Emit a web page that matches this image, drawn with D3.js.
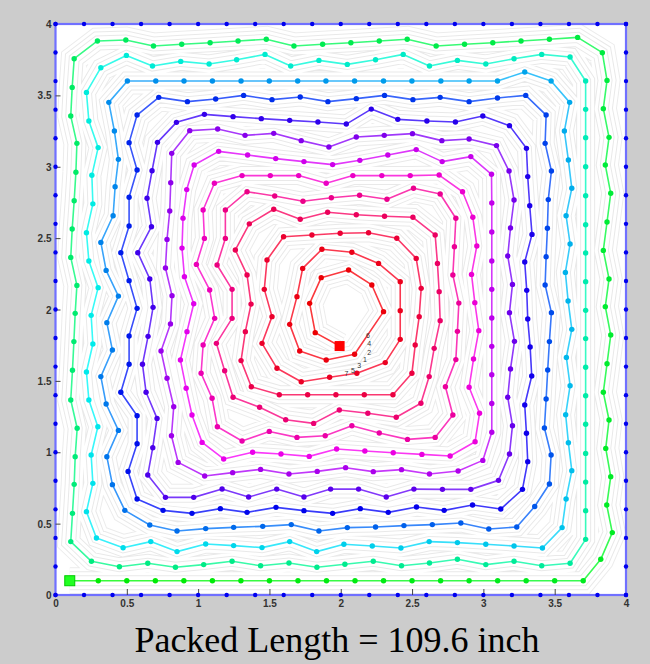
<!DOCTYPE html>
<html><head><meta charset="utf-8">
<script src="https://cdn.jsdelivr.net/npm/d3@7"></script>
<style>html,body{margin:0;padding:0;background:#cccccc;}svg{display:block;}</style>
</head><body>
<svg id="c" width="650" height="664"></svg>
<script>
// ---- data (inches) ----
const loop1 = [[0.1,0.1],[0.3,0.1],[0.5,0.1],[0.7,0.1],[0.9,0.1],[1.1,0.1],[1.3,0.1],[1.5,0.1],[1.7,0.1],[1.9,0.1],[2.1,0.1],[2.3,0.1],[2.5,0.1],[2.7,0.1],[2.9,0.1],[3.1,0.1],[3.3,0.1],[3.5,0.1],[3.7,0.1],
 [3.823,0.25],[3.904,0.437],[3.865,0.63],[3.893,0.829],[3.858,1.027],[3.881,1.226],[3.841,1.42],[3.867,1.62],[3.893,1.821],[3.855,2.02],[3.881,2.214],[3.841,2.414],[3.867,2.613],[3.893,2.814],[3.855,3.012],[3.881,3.206],[3.841,3.407],[3.867,3.605],[3.834,3.799],[3.661,3.906],
 [3.463,3.893],[3.264,3.881],[3.066,3.869],[2.868,3.858],[2.669,3.846],[2.466,3.893],[2.27,3.881],[2.071,3.869],[1.873,3.858],[1.672,3.846],[1.478,3.893],[1.28,3.881],[1.084,3.869],[0.885,3.858],[0.687,3.846],[0.493,3.888],[0.294,3.881],[0.131,3.757],
 [0.117,3.556],[0.107,3.355],[0.15,3.164],[0.143,2.961],[0.131,2.762],[0.117,2.564],[0.107,2.365],[0.15,2.169],[0.138,1.973],[0.129,1.775],[0.119,1.574],[0.107,1.366],[0.152,1.168],[0.138,0.969],[0.131,0.775],[0.119,0.572],[0.107,0.374],[0.252,0.236]];
const loop2 = [[0.448,0.198],[0.647,0.222],[0.841,0.194],[1.039,0.213],[1.238,0.236],[1.438,0.205],[1.637,0.224],[1.833,0.194],[2.029,0.215],[2.228,0.236],[2.426,0.205],[2.622,0.224],[2.818,0.25],[3.017,0.213],[3.215,0.236],[3.409,0.205],[3.608,0.222],
 [3.717,0.39],[3.717,0.591],[3.717,0.791],[3.717,0.992],[3.717,1.196],[3.717,1.396],[3.717,1.595],[3.717,1.796],[3.717,1.994],[3.717,2.195],[3.717,2.396],[3.717,2.594],[3.717,2.797],[3.717,3.0],[3.717,3.204],[3.717,3.402],[3.717,3.601],[3.608,3.769],
 [3.409,3.787],[3.215,3.757],[3.017,3.72],[2.818,3.745],[2.622,3.706],[2.438,3.787],[2.244,3.75],[2.046,3.717],[1.847,3.745],[1.649,3.706],[1.469,3.787],[1.27,3.75],[1.077,3.72],[0.878,3.738],[0.68,3.706],[0.497,3.78],[0.318,3.694],
 [0.217,3.521],[0.234,3.32],[0.299,3.134],[0.255,2.94],[0.262,2.74],[0.217,2.538],[0.234,2.34],[0.299,2.153],[0.25,1.959],[0.262,1.758],[0.217,1.562],[0.234,1.366],[0.297,1.179],[0.25,0.981],[0.262,0.782],[0.217,0.584],[0.287,0.399]];
const loop3 = [[0.474,0.331],[0.668,0.374],[0.852,0.304],[1.053,0.357],[1.249,0.346],[1.448,0.332],[1.642,0.374],[1.831,0.304],[2.022,0.355],[2.221,0.343],[2.422,0.329],[2.62,0.374],[2.818,0.367],[3.017,0.355],[3.215,0.343],[3.414,0.329],
 [3.552,0.472],[3.58,0.673],[3.62,0.871],[3.596,1.067],[3.577,1.263],[3.608,1.466],[3.582,1.664],[3.62,1.861],[3.594,2.06],[3.575,2.26],[3.608,2.459],[3.58,2.657],[3.62,2.849],[3.596,3.047],[3.568,3.25],[3.605,3.451],[3.475,3.601],
 [3.29,3.664],[3.099,3.601],[2.9,3.601],[2.702,3.601],[2.499,3.601],[2.3,3.601],[2.097,3.601],[1.896,3.601],[1.698,3.601],[1.499,3.601],[1.301,3.601],[1.1,3.601],[0.901,3.601],[0.703,3.601],[0.504,3.601],
 [0.374,3.451],[0.413,3.25],[0.441,3.052],[0.418,2.86],[0.404,2.657],[0.318,2.47],[0.355,2.274],[0.441,2.094],[0.36,1.908],[0.399,1.716],[0.318,1.53],[0.355,1.338],[0.441,1.153],[0.36,0.969],[0.399,0.773],[0.486,0.593]];
const loop4 = [[0.661,0.49],[0.852,0.448],[1.053,0.465],[1.249,0.474],[1.453,0.481],[1.653,0.493],[1.847,0.448],[2.046,0.472],[2.244,0.476],[2.443,0.486],[2.642,0.493],[2.842,0.504],[3.038,0.462],[3.234,0.476],
 [3.36,0.62],[3.463,0.778],[3.475,0.981],[3.428,1.17],[3.44,1.373],[3.451,1.576],[3.463,1.775],[3.477,1.978],[3.433,2.172],[3.44,2.37],[3.449,2.569],[3.455,2.77],[3.477,2.97],[3.433,3.164],[3.44,3.362],
 [3.297,3.5],[3.099,3.482],[2.9,3.456],[2.697,3.486],[2.506,3.47],[2.307,3.5],[2.109,3.477],[1.91,3.456],[1.716,3.489],[1.518,3.47],[1.319,3.5],[1.123,3.475],[0.925,3.456],[0.724,3.486],[0.572,3.362],
 [0.516,3.169],[0.572,2.977],[0.516,2.786],[0.516,2.585],[0.458,2.398],[0.516,2.202],[0.572,2.008],[0.516,1.814],[0.516,1.616],[0.458,1.42],[0.572,1.256],[0.572,1.06],[0.509,0.866],[0.572,0.672]];
const loop5 = [[0.754,0.593],[0.957,0.572],[1.156,0.605],[1.343,0.579],[1.546,0.614],[1.742,0.591],[1.943,0.572],[2.137,0.605],[2.333,0.579],[2.531,0.616],[2.725,0.593],[2.924,0.63],[3.122,0.602],
 [3.274,0.74],[3.311,0.934],[3.302,1.133],[3.29,1.331],[3.339,1.534],[3.328,1.737],[3.311,1.933],[3.304,2.134],[3.29,2.333],[3.341,2.526],[3.325,2.727],[3.311,2.931],[3.302,3.129],[3.183,3.288],
 [2.996,3.355],[2.804,3.313],[2.604,3.32],[2.4,3.332],[2.214,3.404],[2.039,3.299],[1.84,3.313],[1.642,3.325],[1.443,3.337],[1.245,3.351],[1.044,3.367],[0.848,3.311],[0.715,3.171],
 [0.677,2.972],[0.642,2.779],[0.673,2.58],[0.577,2.398],[0.661,2.214],[0.684,2.015],[0.649,1.812],[0.61,1.616],[0.635,1.42],[0.712,1.237],[0.682,1.032],[0.647,0.841],[0.771,0.684]];
const loop6 = [[0.969,0.684],[1.168,0.743],[1.354,0.686],[1.551,0.742],[1.742,0.686],[1.929,0.742],[2.125,0.742],[2.319,0.686],[2.513,0.742],[2.713,0.74],[2.912,0.74],[3.106,0.803],
 [3.183,0.988],[3.204,1.186],[3.171,1.385],[3.19,1.583],[3.218,1.777],[3.183,1.978],[3.204,2.176],[3.171,2.375],[3.19,2.571],[3.215,2.767],[3.18,2.97],[3.092,3.148],
 [2.9,3.194],[2.709,3.183],[2.503,3.232],[2.305,3.22],[2.109,3.208],[1.917,3.138],[1.723,3.183],[1.53,3.234],[1.329,3.22],[1.137,3.264],[0.941,3.253],[0.815,3.094],
 [0.808,2.888],[0.801,2.69],[0.782,2.491],[0.771,2.291],[0.817,2.097],[0.806,1.899],[0.74,1.709],[0.782,1.518],[0.829,1.319],[0.813,1.116],[0.86,0.929],[1.046,0.834]];
const loop7 = [[1.242,0.857],[1.438,0.88],[1.637,0.848],[1.835,0.866],[2.034,0.892],[2.228,0.864],[2.426,0.878],[2.622,0.848],[2.823,0.869],[2.996,0.943],
 [3.059,1.14],[3.059,1.342],[3.059,1.543],[3.059,1.742],[3.059,1.94],[3.059,2.141],[3.059,2.34],[3.059,2.543],[3.059,2.746],[3.057,2.947],[2.912,3.071],
 [2.711,3.036],[2.529,3.12],[2.33,3.082],[2.134,3.045],[1.943,3.015],[1.742,3.036],[1.544,3.057],[1.347,3.082],[1.144,3.108],[0.972,3.012],
 [0.92,2.84],[0.894,2.64],[0.887,2.43],[0.904,2.23],[0.969,2.04],[0.922,1.845],[0.876,1.646],[0.916,1.448],[0.957,1.261],[1.028,1.069],[1.179,0.953]];
const loop8 = [[1.382,1.0],[1.581,0.988],[1.779,0.971],[1.971,1.023],[2.169,1.009],[2.368,0.997],[2.569,0.985],[2.767,0.974],[2.942,1.074],
 [2.973,1.273],[2.9,1.455],[2.931,1.653],[2.968,1.852],[2.94,2.048],[2.917,2.246],[2.954,2.445],[2.926,2.646],[2.854,2.825],
 [2.69,2.942],[2.487,2.938],[2.288,2.938],[2.085,2.938],[1.898,2.884],[1.705,2.938],[1.506,2.938],[1.308,2.938],[1.114,2.884],
 [1.035,2.697],[1.044,2.498],[0.988,2.316],[1.081,2.137],[1.116,1.938],[1.035,1.751],[1.021,1.553],[1.098,1.378],[1.135,1.179]];
const loop9 = [[1.308,1.079],[1.499,1.146],[1.693,1.104],[1.891,1.116],[2.078,1.186],[2.27,1.135],[2.468,1.09],[2.662,1.104],
 [2.786,1.261],[2.734,1.459],[2.807,1.649],[2.818,1.847],[2.828,2.045],[2.786,2.242],[2.797,2.44],[2.807,2.639],
 [2.697,2.809],[2.51,2.849],[2.324,2.772],[2.132,2.8],[1.934,2.783],[1.735,2.758],[1.537,2.795],[1.343,2.825],
 [1.191,2.697],[1.191,2.498],[1.133,2.312],[1.238,2.141],[1.238,1.938],[1.128,1.763],[1.186,1.571],[1.245,1.385]];
const loop10 = [[1.431,1.315],[1.614,1.228],[1.81,1.202],[1.99,1.296],[2.19,1.273],[2.389,1.245],[2.562,1.343],
 [2.62,1.53],[2.655,1.728],[2.697,1.922],[2.69,2.125],[2.678,2.323],[2.662,2.522],
 [2.506,2.646],[2.307,2.653],[2.109,2.664],[1.908,2.681],[1.716,2.632],[1.53,2.702],[1.359,2.6],
 [1.261,2.417],[1.343,2.242],[1.371,2.038],[1.331,1.845],[1.301,1.642],[1.373,1.459]];
const loop11 = [[1.569,1.403],[1.768,1.403],[1.966,1.403],[2.165,1.403],[2.366,1.403],
 [2.499,1.553],[2.522,1.751],[2.55,1.95],[2.564,2.148],[2.529,2.358],
 [2.393,2.499],[2.195,2.538],[1.996,2.534],[1.798,2.522],[1.599,2.51],
 [1.483,2.347],[1.464,2.141],[1.518,1.95],[1.448,1.763]];
const loop12 = [[1.553,1.588],[1.723,1.494],[1.922,1.525],[2.113,1.553],[2.312,1.628],
 [2.417,1.791],[2.417,1.992],[2.417,2.195],
 [2.265,2.323],[2.078,2.401],[1.868,2.422],
 [1.733,2.288],[1.693,2.09],[1.642,1.896],[1.712,1.709]];
const loop13 = [[1.898,1.646],[2.097,1.686],[2.3,1.985],[2.218,2.172],[2.055,2.277],[1.863,2.223],[1.782,2.043],[1.821,1.838],[1.992,1.744]];
const loops = [loop1,loop2,loop3,loop4,loop5,loop6,loop7,loop8,loop9,loop10,loop11,loop12,loop13];

const tickValues = [0,0.5,1,1.5,2,2.5,3,3.5,4];
const tickLabels = ["0","0.5","1","1.5","2","2.5","3","3.5","4"];
const borderDots = [0,0.2,0.4,0.6,0.8,1,1.2,1.4,1.6,1.8,2,2.2,2.4,2.6,2.8,3,3.2,3.4,3.6,3.8,4];
const smallLabels = [["6",2.19,1.81],["4",2.20,1.755],["2",2.20,1.695],["1",2.17,1.645],["3",2.13,1.60],["5",2.085,1.565],["7",2.04,1.545]];
const title = "Packed Length = 109.6 inch";

// ---- drawing ----
const svg = d3.select("#c");
const x = d3.scaleLinear().domain([0,4]).range([55.5,626]);
const y = d3.scaleLinear().domain([0,4]).range([595,24]);
const pts = loops.flat();
const N = pts.length;
const hue = i => 120 + 240 * i / (N - 1);

svg.append("rect").attr("x",x(0)).attr("y",y(4)).attr("width",x(4)-x(0)).attr("height",y(0)-y(4)).attr("fill","#fff");

svg.append("clipPath").attr("id","pc").append("rect")
  .attr("x",x(0)).attr("y",y(4)).attr("width",x(4)-x(0)).attr("height",y(0)-y(4));

const line = d3.line().x(d=>x(d[0])).y(d=>y(d[1]));
const g = svg.append("g").attr("clip-path","url(#pc)");
// grey offset contours (layered strokes)
const layers = [[27,"#ececec"],[25,"#fff"],[19,"#e9e9e9"],[17,"#fff"],[11,"#e9e9e9"],[9,"#fff"]];
layers.forEach(([w,c])=>{
  g.append("path").attr("d",line(pts)).attr("fill","none").attr("stroke",c)
   .attr("stroke-width",w).attr("stroke-linejoin","miter").attr("stroke-miterlimit",3).attr("stroke-linecap","butt");
});

// colored segments
const segs = d3.range(N-1).map(i=>[pts[i],pts[i+1],i]);
g.selectAll("line.seg").data(segs).join("line").attr("class","seg")
  .attr("x1",d=>x(d[0][0])).attr("y1",d=>y(d[0][1])).attr("x2",d=>x(d[1][0])).attr("y2",d=>y(d[1][1]))
  .attr("stroke",d=>d3.hsl(hue(d[2]),0.95,0.6)).attr("stroke-width",1.6).attr("stroke-linecap","round");
g.selectAll("circle.pt").data(pts.map((p,i)=>[p,i])).join("circle").attr("class","pt")
  .attr("cx",d=>x(d[0][0])).attr("cy",d=>y(d[0][1])).attr("r",2.7)
  .attr("fill",d=>d3.hsl(hue(d[1]),1,0.46));

// start / end squares
const s0 = pts[0], s1 = pts[N-1];
svg.append("rect").attr("x",x(s0[0])-5).attr("y",y(s0[1])-5).attr("width",10).attr("height",10)
  .attr("fill","#22ff22").attr("stroke","#00cc00").attr("stroke-width",1);
svg.append("rect").attr("x",x(s1[0])-5).attr("y",y(s1[1])-5).attr("width",10).attr("height",10)
  .attr("fill","#ff0000");

// small labels
svg.selectAll("text.sl").data(smallLabels).join("text").attr("class","sl")
  .attr("x",d=>x(d[1])).attr("y",d=>y(d[2])).attr("font-family","Liberation Sans, Arial, sans-serif")
  .attr("font-size",7).attr("fill","#333").attr("text-anchor","middle").attr("dominant-baseline","middle").text(d=>d[0]);

// frame
svg.append("rect").attr("x",x(0)).attr("y",y(4)).attr("width",x(4)-x(0)).attr("height",y(0)-y(4))
  .attr("fill","none").attr("stroke","#7070ff").attr("stroke-width",2.2);

// axes
const fmt = d => tickLabels[tickValues.indexOf(d)];
const ax = svg.append("g").attr("transform",`translate(0,${y(0)})`)
  .call(d3.axisBottom(x).tickValues(tickValues).tickFormat(fmt).tickSizeInner(-6).tickSizeOuter(0).tickPadding(5));
const ay = svg.append("g").attr("transform",`translate(${x(0)},0)`)
  .call(d3.axisLeft(y).tickValues(tickValues).tickFormat(fmt).tickSizeInner(-5).tickSizeOuter(0).tickPadding(4));
[ax,ay].forEach(a=>{
  a.select(".domain").remove();
  a.selectAll(".tick line").attr("stroke","#444").attr("stroke-width",1);
  a.selectAll(".tick text").attr("font-family","Liberation Sans, Arial, sans-serif").attr("font-size",10)
   .attr("font-weight","bold").attr("fill","#333");
});
ax.selectAll(".tick").filter(d=>d===0||d===4).select("line").remove();
ay.selectAll(".tick").filter(d=>d===0||d===4).select("line").remove();
ay.selectAll(".tick text").attr("dy","0.35em");

// border dots
const bd = [];
borderDots.forEach(v=>{ bd.push([v,0],[v,4],[0,v],[4,v]); });
svg.selectAll("circle.bd").data(bd).join("circle").attr("class","bd")
  .attr("cx",d=>x(d[0])).attr("cy",d=>y(d[1])).attr("r",2.2).attr("fill","#0000ee");

// title
svg.append("text").attr("x",337).attr("y",652).attr("text-anchor","middle")
  .attr("font-family","Liberation Serif, Times New Roman, serif").attr("font-size",36).attr("fill","#000").text(title);
</script>
</body></html>
